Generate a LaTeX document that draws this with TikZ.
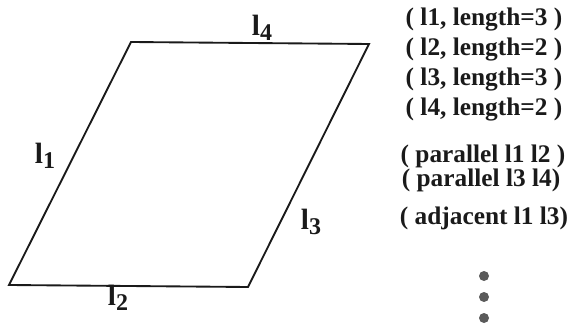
\documentclass[tikz,border=0pt]{standalone}
\usepackage{fontspec}
\setmainfont{Liberation Serif}
\usepackage{tikz}
\usetikzlibrary{positioning}
\definecolor{pink}{HTML}{1A1A1A}
\definecolor{pdot}{HTML}{5A5A5A}
\tikzset{
  side/.style={draw=pink, line width=1.4pt, line join=miter},
  slabel/.style={inner sep=0pt, font=\fontsize{22}{24}\selectfont\bfseries, text=pink},
  fact/.style={inner sep=0pt, anchor=center, font=\fontsize{19}{21}\selectfont\bfseries, text=pink},
  etc/.style={circle, fill=pdot, inner sep=0pt, minimum size=7.5pt}
}
\newcommand{\seg}[1]{l\raisebox{-0.35ex}{\fontsize{18}{19}\selectfont #1}}

\begin{document}
\begin{tikzpicture}[x=0.75pt, y=-0.75pt]
  \useasboundingbox (0,0) rectangle (573,327);
  % parallelogram
  \coordinate (bl) at (9,285);
  \coordinate (br) at (248,287);
  \coordinate (tr) at (369,44);
  \coordinate (tl) at (131,42);
  \draw[side] (bl) -- (br) -- (tr) -- (tl) -- cycle;

  % side labels
  \node[slabel] (l1) at (45,156) {\seg{1}};
  \node[slabel] (l2) at (118,298) {\seg{2}};
  \node[slabel] (l3) at (311,222) {\seg{3}};
  \node[slabel] (l4) at (262,28) {\seg{4}};

  % facts
  \node[fact] (f1) at (484,20) {( l1, length=3 )};
  \node[fact] (f2) at (484,50) {( l2, length=2 )};
  \node[fact] (f3) at (484,80) {( l3, length=3 )};
  \node[fact] (f4) at (484,110) {( l4, length=2 )};
  \node[fact] (p1) at (483,156) {( parallel l1 l2 )};
  \node[fact] (p2) at (481,180) {( parallel l3 l4)};
  \node[fact] (a1) at (484,218) {( adjacent l1 l3)};

  % and so on
  \node[etc] (d1) at (484,276) {};
  \node[etc] (d2) at (484,297) {};
  \node[etc] (d3) at (484,318) {};
\end{tikzpicture}
\end{document}
